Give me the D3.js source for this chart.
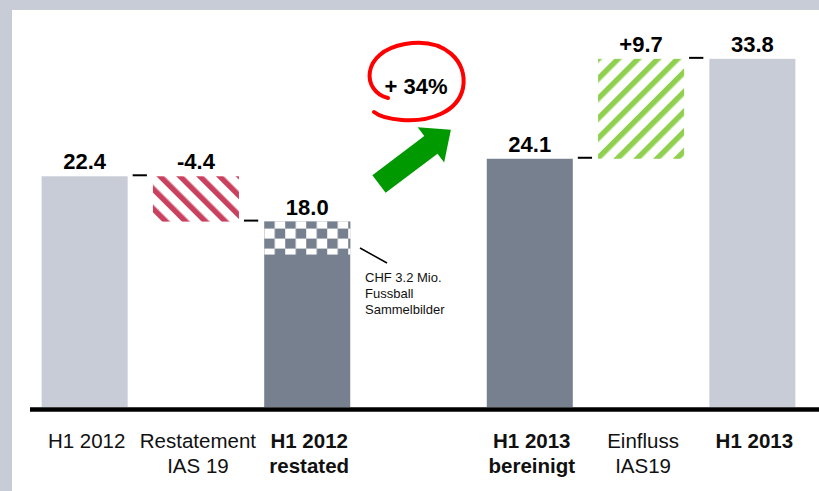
<!DOCTYPE html>
<html>
<head>
<meta charset="utf-8">
<script src="https://cdn.jsdelivr.net/npm/d3@7"></script>
<style>
  body { margin: 0; background: #fff; }
  svg { display: block; font-family: "Liberation Sans", Arial, sans-serif; }
</style>
</head>
<body>
<svg id="chart" width="819" height="491"></svg>
<script>
// chart data
var slots = [0, 1, 2, 4, 5, 6];            // slot 3 stays empty
var labelLine1 = ["H1 2012", "Restatement", "H1 2012", "H1 2013", "Einfluss", "H1 2013"];
var labelLine2 = ["", "IAS 19", "restated", "bereinigt", "IAS19", ""];
var labelBold = [false, false, true, true, false, true];
var barStart = [0, 18.0, 0, 0, 24.1, 0];
var barEnd = [22.4, 22.4, 18.0, 24.1, 33.8, 33.8];
var valueText = ["22.4", "-4.4", "18.0", "24.1", "+9.7", "33.8"];
var barFill = ["light", "red", "dark", "dark", "green", "light"];
var footballValue = 3.2;   // checkered part of restated bar
var growthText = "+ 34%";

var width = 819, height = 491;
var svg = d3.select("#chart");

// frame
svg.append("rect").attr("x", 0).attr("y", 0).attr("width", width).attr("height", 10).attr("fill", "#c8ccd6");
svg.append("rect").attr("x", 0).attr("y", 0).attr("width", 12).attr("height", height).attr("fill", "#c8ccd6");

var x = d3.scaleBand()
  .domain(d3.range(7))
  .range([29, 808])
  .paddingInner(0.227)
  .paddingOuter(0.1135);

var y = d3.scaleLinear()
  .domain([0, 34])
  .range([407, 407 - 34 * 10.3]);

// patterns
var defs = svg.append("defs");

var red = defs.append("pattern")
  .attr("id", "hatchRed")
  .attr("patternUnits", "userSpaceOnUse")
  .attr("width", 14).attr("height", 14)
  .attr("patternTransform", "rotate(-45)");
red.append("rect").attr("width", 14).attr("height", 14).attr("fill", "#fff");
red.append("rect").attr("x", 0).attr("width", 5.5).attr("height", 14).attr("fill", "#c9415f");

var green = defs.append("pattern")
  .attr("id", "hatchGreen")
  .attr("patternUnits", "userSpaceOnUse")
  .attr("width", 14).attr("height", 14)
  .attr("patternTransform", "rotate(45)");
green.append("rect").attr("width", 14).attr("height", 14).attr("fill", "#fff");
green.append("rect").attr("x", 0).attr("width", 5.5).attr("height", 14).attr("fill", "#8fd14f");

var checker = defs.append("pattern")
  .attr("id", "checker")
  .attr("patternUnits", "userSpaceOnUse")
  .attr("x", x(2)).attr("y", y(barEnd[2]) - 3)
  .attr("width", 21).attr("height", 20);
checker.append("rect").attr("width", 21).attr("height", 20).attr("fill", "#fff");
checker.append("rect").attr("x", 0).attr("y", 0).attr("width", 10.5).attr("height", 10).attr("fill", "#76808f");
checker.append("rect").attr("x", 10.5).attr("y", 10).attr("width", 10.5).attr("height", 10).attr("fill", "#76808f");

var fills = {
  light: "#c8ccd6",
  dark: "#76808f",
  red: "url(#hatchRed)",
  green: "url(#hatchGreen)"
};

// bars
svg.selectAll(".bar")
  .data(slots)
  .enter().append("rect")
  .attr("class", "bar")
  .attr("x", function(s) { return x(s); })
  .attr("width", x.bandwidth())
  .attr("y", function(s, i) { return y(barEnd[i]); })
  .attr("height", function(s, i) { return y(barStart[i]) - y(barEnd[i]); })
  .attr("fill", function(s, i) { return fills[barFill[i]]; });

// checkered football part
svg.append("rect")
  .attr("x", x(2))
  .attr("width", x.bandwidth())
  .attr("y", y(barEnd[2]))
  .attr("height", y(barEnd[2] - footballValue) - y(barEnd[2]))
  .attr("fill", "url(#checker)");

// connectors between bars (bar indices)
var connectors = [
  {from: 0, to: 1, v: barEnd[0]},
  {from: 1, to: 2, v: barStart[1]},
  {from: 3, to: 4, v: barStart[4]},
  {from: 4, to: 5, v: barEnd[4]}
];
svg.selectAll(".conn")
  .data(connectors)
  .enter().append("line")
  .attr("class", "conn")
  .attr("x1", function(d) { return x(slots[d.from]) + x.bandwidth() + 5; })
  .attr("x2", function(d) { return x(slots[d.to]) - 6; })
  .attr("y1", function(d) { return y(d.v) - 1; })
  .attr("y2", function(d) { return y(d.v) - 1; })
  .attr("stroke", "#000")
  .attr("stroke-width", 2);

// value labels
svg.selectAll(".val")
  .data(slots)
  .enter().append("text")
  .attr("class", "val")
  .attr("x", function(s) { return x(s) + x.bandwidth() / 2; })
  .attr("y", function(s, i) { return y(barEnd[i]) - 7; })
  .attr("text-anchor", "middle")
  .attr("font-size", "22px")
  .attr("font-weight", "700")
  .text(function(s, i) { return valueText[i]; });

// baseline
svg.append("line")
  .attr("x1", 30).attr("x2", width)
  .attr("y1", y(0) + 2.5).attr("y2", y(0) + 2.5)
  .attr("stroke", "#000")
  .attr("stroke-width", 4.5);

// category labels
var cat = svg.selectAll(".cat")
  .data(slots)
  .enter().append("text")
  .attr("class", "cat")
  .attr("text-anchor", "middle")
  .attr("font-size", "20.5px")
  .attr("font-weight", function(s, i) { return labelBold[i] ? "700" : "400"; })
  .attr("fill", "#111");
cat.append("tspan")
  .attr("x", function(s) { return x(s) + x.bandwidth() / 2 + 2; })
  .attr("y", 448)
  .text(function(s, i) { return labelLine1[i]; });
cat.append("tspan")
  .attr("x", function(s) { return x(s) + x.bandwidth() / 2 + 2; })
  .attr("y", 473)
  .text(function(s, i) { return labelLine2[i]; });

// note for football cards
svg.append("line")
  .attr("x1", 360).attr("y1", 248)
  .attr("x2", 387).attr("y2", 263)
  .attr("stroke", "#000").attr("stroke-width", 1.5);
svg.append("text")
  .attr("font-size", "13px")
  .attr("fill", "#111")
  .selectAll("tspan")
  .data(["CHF 3.2 Mio.", "Fussball", "Sammelbilder"])
  .enter().append("tspan")
  .attr("x", 365)
  .attr("y", function(d, i) { return 282 + i * 16; })
  .text(function(d) { return d; });

// growth arrow
svg.append("path")
  .attr("d", "M0,-11 L65,-11 L65,-22 L90,0 L65,22 L65,11 L0,11 Z")
  .attr("transform", "translate(379,184) rotate(-37)")
  .attr("fill", "#009a00");

// red hand-drawn circle
svg.append("path")
  .attr("d", "M388,98 C362,92 360,52 405,44 C445,37 468,62 463,88 C458,112 430,122 402,120 C388,119 379,116 374,112")
  .attr("fill", "none")
  .attr("stroke", "#ff0000")
  .attr("stroke-width", 4)
  .attr("stroke-linecap", "round");

svg.append("text")
  .attr("x", 416)
  .attr("y", 94)
  .attr("text-anchor", "middle")
  .attr("font-size", "22px")
  .attr("font-weight", "700")
  .text(growthText);
</script>
</body>
</html>
